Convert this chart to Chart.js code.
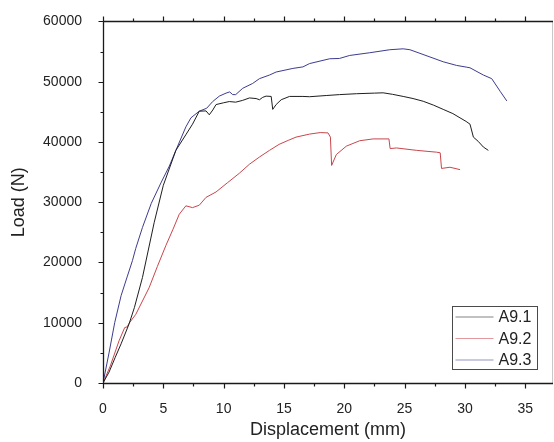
<!DOCTYPE html>
<html>
<head>
<meta charset="utf-8">
<script src="https://cdn.jsdelivr.net/npm/chart.js@4/dist/chart.umd.min.js"></script>
<style>
  html, body { margin: 0; padding: 0; background: #ffffff; }
  canvas { display: block; }
</style>
</head>
<body>
<canvas id="c" width="554" height="442"></canvas>
<script>
// ---- Data ----
const SERIES_NAMES = ["A9.1", "A9.2", "A9.3"];

// A9.1 (black): [displacement mm, load N]
const A91 = [
  [0,0],[0.5,1800],[1.0,4200],[1.5,6500],[2.16,9800],[2.6,12500],[3.27,17500],[4.24,26600],
  [5.0,32800],[6.04,38600],[6.9,41300],[7.42,42950],[7.98,45100],[8.54,45150],[8.81,44500],
  [9.1,45300],[9.37,46200],[10.0,46500],[10.47,46700],[11.0,46600],[11.58,46900],[12.14,47300],
  [12.69,47200],[12.97,47000],[13.24,47400],[13.52,47600],[13.94,47550],[14.07,45400],[14.35,46200],
  [14.77,47000],[15.46,47550],[16.57,47550],[17.12,47500],[18.5,47700],[19.6,47850],[21.0,48000],
  [22.5,48100],[23.22,48150],[24.0,47900],[24.88,47550],[25.7,47200],[26.54,46750],[27.4,46100],
  [28.2,45400],[29.0,44700],[29.59,44000],[30.1,43400],[30.42,42950],[30.7,40800],[31.1,40100],
  [31.53,39150],[31.94,38600]
];

// A9.2 (red)
const A92 = [
  [0,0],[0.6,2800],[1.33,7000],[1.8,9200],[2.0,9300],[2.16,9900],[2.72,11400],[3.82,15800],
  [4.5,19300],[5.21,22800],[5.8,25500],[6.32,28000],[6.87,29400],[7.42,29100],[7.98,29500],
  [8.54,30800],[9.37,31700],[10.3,33200],[11.3,34800],[12.14,36300],[12.97,37500],[13.8,38600],
  [14.6,39600],[15.4,40300],[16.0,40800],[17.12,41300],[18.0,41550],[18.65,41500],[18.85,40800],
  [18.95,36100],[19.34,37900],[20.17,39300],[21.28,40200],[22.39,40500],[23.7,40500],[23.8,38900],
  [24.33,39000],[26.0,38600],[27.65,38300],[27.95,38200],[28.06,35600],[28.76,35800],[29.6,35400]
];

// A9.3 (blue)
const A93 = [
  [0,0],[0.5,5000],[0.97,10000],[1.5,14500],[2.0,17600],[2.44,20300],[2.71,22300],[3.27,25800],
  [4.0,29800],[4.8,33200],[5.5,36000],[6.04,38600],[6.87,42500],[7.29,44000],[7.98,45100],
  [8.6,45600],[9.09,46700],[9.64,47600],[10.2,48100],[10.5,48300],[10.75,47850],[11.0,47850],
  [11.58,48900],[12.4,49700],[12.97,50500],[13.8,51100],[14.35,51600],[15.74,52200],[16.57,52450],
  [17.12,53000],[18.79,53800],[19.6,53850],[20.45,54350],[22.11,54800],[23.77,55300],[24.88,55450],
  [25.44,55300],[26.27,54700],[27.1,54100],[28.2,53300],[29.3,52700],[30.15,52400],[30.42,52300],
  [31.53,51100],[32.22,50500],[32.92,48400],[33.47,46800]
];

// Axis ticks
const X_TICKS = [0, 5, 10, 15, 20, 25, 30, 35];
const Y_TICKS = [0, 10000, 20000, 30000, 40000, 50000, 60000];
const X_MIN = 0, X_MAX = 37.3, X_MINOR = 2.5;
const Y_MIN = 0, Y_MAX = 60000, Y_MINOR = 5000;

const COLORS = ["#1e1e1e", "#c8464c", "#3c3c8e"];
const FONT = '"Liberation Sans", Arial, sans-serif';

const toXY = arr => arr.map(p => ({ x: p[0], y: p[1] }));

const whiteBg = {
  id: 'whiteBg',
  beforeDraw(chart) {
    const ctx = chart.ctx;
    ctx.save();
    ctx.fillStyle = '#ffffff';
    ctx.fillRect(0, 0, chart.width, chart.height);
    ctx.restore();
  }
};

const frameAndTicks = {
  id: 'frameAndTicks',
  afterDraw(chart) {
    const ctx = chart.ctx;
    const ca = chart.chartArea;
    const xs = chart.scales.x, ys = chart.scales.y;
    ctx.save();
    // right border (faint)
    ctx.strokeStyle = '#c8c8c8';
    ctx.lineWidth = 1;
    ctx.beginPath();
    ctx.moveTo(Math.round(ca.right) - 0.5, ca.top);
    ctx.lineTo(Math.round(ca.right) - 0.5, ca.bottom);
    ctx.stroke();

    ctx.strokeStyle = '#1a1a1a';
    ctx.lineWidth = 1.3;
    const L = Math.round(ca.left) + 0.5, B = Math.round(ca.bottom) + 0.5, T = Math.round(ca.top) + 0.5;
    ctx.beginPath();
    ctx.moveTo(L, T); ctx.lineTo(L, B); ctx.lineTo(ca.right, B);
    ctx.moveTo(L, T); ctx.lineTo(ca.right, T);
    ctx.stroke();

    ctx.lineWidth = 1.2;
    ctx.beginPath();
    for (let v = X_MIN; v <= X_MAX + 1e-9; v += X_MINOR) {
      const major = Math.abs(v / 5 - Math.round(v / 5)) < 1e-6;
      const len = major ? 5 : 3;
      const px = Math.round(xs.getPixelForValue(v)) + 0.5;
      ctx.moveTo(px, B); ctx.lineTo(px, B + len);
      ctx.moveTo(px, T); ctx.lineTo(px, T - len);
    }
    for (let v = Y_MIN; v <= Y_MAX + 1e-9; v += Y_MINOR) {
      const major = (v % 10000) === 0;
      const len = major ? 5 : 3;
      const py = Math.round(ys.getPixelForValue(v)) + 0.5;
      ctx.moveTo(L, py); ctx.lineTo(L - len, py);
    }
    ctx.stroke();
    ctx.restore();
  }
};

const insideLegend = {
  id: 'insideLegend',
  afterDraw(chart) {
    const ctx = chart.ctx;
    const bx = 452.5, by = 306.5, bw = 85, bh = 63;
    ctx.save();
    ctx.fillStyle = '#ffffff';
    ctx.fillRect(bx, by, bw, bh);
    ctx.strokeStyle = '#4a4a4a';
    ctx.lineWidth = 1;
    ctx.strokeRect(bx, by, bw, bh);
    ctx.font = '16px ' + FONT;
    ctx.textBaseline = 'middle';
    ctx.textAlign = 'left';
    chart.data.datasets.forEach((ds, i) => {
      const cy = by + 10.5 + i * 21.5;
      ctx.globalAlpha = 0.55;
      ctx.strokeStyle = ds.borderColor;
      ctx.lineWidth = 1.2;
      ctx.beginPath();
      ctx.moveTo(bx + 3, cy);
      ctx.lineTo(bx + 41, cy);
      ctx.stroke();
      ctx.globalAlpha = 1;
      ctx.fillStyle = '#222222';
      ctx.fillText(ds.label, bx + 46, cy + 1);
    });
    ctx.restore();
  }
};

new Chart(document.getElementById('c'), {
  type: 'scatter',
  data: {
    datasets: [A91, A92, A93].map((arr, i) => ({
      label: SERIES_NAMES[i],
      data: toXY(arr),
      showLine: true,
      borderColor: COLORS[i],
      backgroundColor: COLORS[i],
      borderWidth: 1,
      pointRadius: 0,
      tension: 0
    }))
  },
  options: {
    responsive: false,
    animation: false,
    devicePixelRatio: 1,
    layout: { padding: { top: 15, right: 1, left: 0, bottom: 0 } },
    plugins: {
      legend: { display: false },
      tooltip: { enabled: false }
    },
    scales: {
      x: {
        type: 'linear',
        min: X_MIN,
        max: X_MAX,
        grid: { display: false },
        border: { display: false },
        afterBuildTicks: s => { s.ticks = X_TICKS.map(v => ({ value: v })); },
        afterFit: s => { s.height = 59; },
        ticks: {
          padding: 10,
          color: '#222222',
          font: { family: FONT, size: 14 },
          maxRotation: 0,
          callback: v => String(v)
        },
        title: {
          display: true,
          text: 'Displacement (mm)',
          color: '#222222',
          font: { family: FONT, size: 18 },
          padding: { top: 0, bottom: 1 }
        }
      },
      y: {
        type: 'linear',
        min: Y_MIN,
        max: Y_MAX,
        grid: { display: false },
        border: { display: false },
        afterBuildTicks: s => { s.ticks = Y_TICKS.map(v => ({ value: v })); },
        afterFit: s => { s.width = 103; },
        ticks: {
          padding: 13,
          color: '#222222',
          font: { family: FONT, size: 14 },
          callback: v => String(v)
        },
        title: {
          display: true,
          text: 'Load (N)',
          color: '#222222',
          font: { family: FONT, size: 18 },
          padding: { top: 8, bottom: 0 }
        }
      }
    }
  },
  plugins: [whiteBg, frameAndTicks, insideLegend]
});
</script>
</body>
</html>
